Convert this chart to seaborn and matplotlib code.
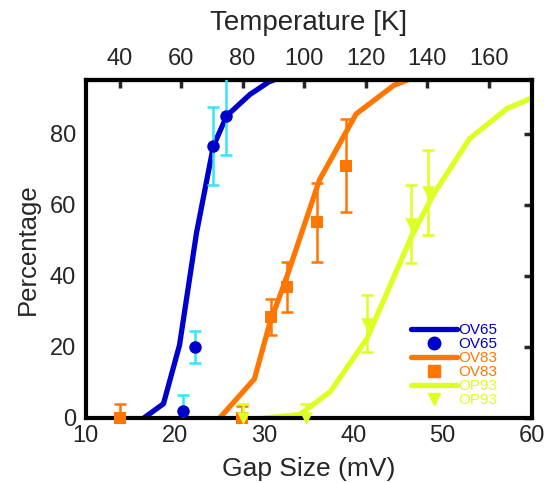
import matplotlib
matplotlib.use("Agg")
import matplotlib.pyplot as plt
import seaborn as sns
import pandas as pd
from matplotlib.lines import Line2D

# ---- data ----
ov65_line_gap = [16.5, 18.7, 20.5, 22.4, 24.3, 25.8, 28.4, 30.5, 33.0]
ov65_line_pct = [0, 4, 20.5, 52, 76.5, 85, 91, 94.5, 97]
ov65_pts_gap = [20.9, 22.2, 24.3, 25.7]
ov65_pts_pct = [2, 20, 76.5, 85]
ov65_pts_err = [4.5, 4.5, 11, 11]

ov83_line_gap = [25.0, 28.9, 30.6, 32.5, 36.2, 40.3, 44.5, 46.5, 49.0]
ov83_line_pct = [0, 11, 26.5, 39.5, 67, 85.5, 93.5, 95.5, 97]
ov83_pts_gap = [13.8, 27.5, 30.7, 32.5, 35.9, 39.2]
ov83_pts_pct = [0, 0, 28.4, 36.8, 55, 71]
ov83_pts_err = [4, 3.5, 5, 7, 11, 13]

op93_line_gap = [30.0, 34.0, 37.4, 41.5, 46.5, 49.0, 53.0, 57.2, 60.0, 62.0]
op93_line_pct = [0, 1, 7.4, 22.3, 51, 63, 78.5, 87, 90, 92]
op93_pts_gap = [27.6, 34.7, 41.5, 46.5, 48.4]
op93_pts_pct = [0, 0, 26.5, 54.5, 63.5]
op93_pts_err = [4, 4, 8, 11, 12]

x_ticks = [10, 20, 30, 40, 50, 60]
y_ticks = [0, 20, 40, 60, 80]
t_ticks = [40, 60, 80, 100, 120, 140, 160]

# colors
BLUE = "#0000CC"
CYAN = "#33E6F5"
ORANGE = "#FF7700"
YGREEN = "#DDFF22"

sns.set_style("white")
plt.rcParams['font.family'] = ['Liberation Sans', 'DejaVu Sans']

fig = plt.figure(figsize=(5.54, 4.83), dpi=100)
ax = fig.add_axes([0.155, 0.1346, 0.805, 0.6994])

series = [
    ("OV65", ov65_line_gap, ov65_line_pct, ov65_pts_gap, ov65_pts_pct, ov65_pts_err, BLUE, CYAN, "o", 9),
    ("OV83", ov83_line_gap, ov83_line_pct, ov83_pts_gap, ov83_pts_pct, ov83_pts_err, ORANGE, ORANGE, "s", 9),
    ("OP93", op93_line_gap, op93_line_pct, op93_pts_gap, op93_pts_pct, op93_pts_err, YGREEN, YGREEN, "v", 9),
]

handles = []
labels = []
for name, lg, lp, pg, pp, pe, col, ecol, mk, ms in series:
    dfl = pd.DataFrame({"gap": lg, "pct": lp})
    sns.lineplot(data=dfl, x="gap", y="pct", ax=ax, color=col, linewidth=3.8,
                 sort=False, legend=False)
    ax.errorbar(pg, pp, yerr=pe, fmt="none", ecolor=ecol, elinewidth=1.8,
                capsize=4, capthick=1.8, zorder=3)
    dfp = pd.DataFrame({"gap": pg, "pct": pp})
    sns.scatterplot(data=dfp, x="gap", y="pct", ax=ax, color=col, marker=mk,
                    s=ms ** 2, edgecolor=col, linewidth=0, zorder=4,
                    clip_on=False, legend=False)
    handles.append(Line2D([], [], color=col, linewidth=3.8))
    labels.append(name)
    handles.append(Line2D([], [], color=col, marker=mk, linestyle="none", markersize=ms))
    labels.append(name)

ax.set_xlim(10, 60)
ax.set_ylim(0, 95)
ax.set_xticks(x_ticks)
ax.set_yticks(y_ticks)
ax.set_xlabel("Gap Size (mV)", fontsize=19, labelpad=7)
ax.set_ylabel("Percentage", fontsize=18.5, labelpad=7)
ax.tick_params(axis="both", direction="in", length=6, width=2.5, labelsize=17,
               top=False, right=True)
ax.tick_params(axis="x", pad=5)
ax.tick_params(axis="y", pad=7)
for sp in ax.spines.values():
    sp.set_linewidth(3)
    sp.set_color("black")

k4 = 4 * 0.08617
sec = ax.secondary_xaxis("top", functions=(lambda g: g / k4, lambda t: t * k4))
sec.set_xticks(t_ticks)
sec.set_xlabel("Temperature [K]", fontsize=20, labelpad=13)
sec.tick_params(direction="in", length=6, width=2.5, labelsize=17, pad=7)
sec.spines["top"].set_linewidth(3)

leg = ax.legend(handles, labels, loc="lower right", bbox_to_anchor=(0.94, 0.01),
                frameon=False, fontsize=11, handlelength=3.0, handletextpad=0.1,
                labelspacing=0.0, borderpad=0.0)
for txt, h in zip(leg.get_texts(), handles):
    txt.set_color(h.get_color())

fig.savefig("out.png", dpi=100)
